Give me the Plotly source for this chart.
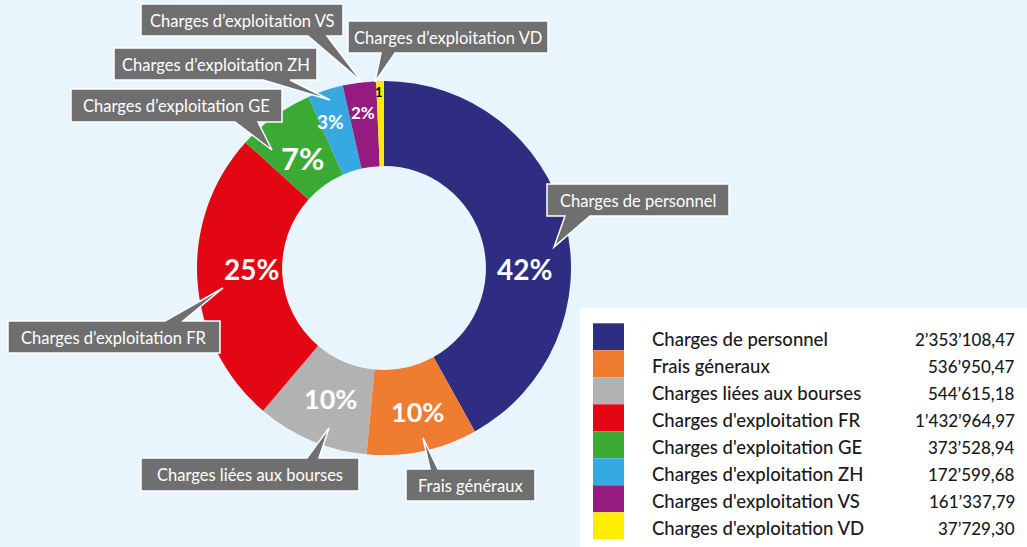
import plotly.graph_objects as go

# ---------------- data ----------------
categories = [
    "Charges de personnel",
    "Frais géneraux",
    "Charges liées aux bourses",
    "Charges d'exploitation FR",
    "Charges d'exploitation GE",
    "Charges d'exploitation ZH",
    "Charges d'exploitation VS",
    "Charges d'exploitation VD",
]
values = [2353108.47, 536950.47, 544615.18, 1432964.97, 373528.94, 172599.68, 161337.79, 37729.30]
value_labels = ["2’353’108,47", "536’950,47", "544’615,18", "1’432’964,97",
                "373’528,94", "172’599,68", "161’337,79", "37’729,30"]
slice_labels = ["42%", "10%", "10%", "25%", "7%", "3%", "2%", "1"]
callout_labels = ["Charges de personnel", "Frais généraux", "Charges liées aux bourses",
                  "Charges d’exploitation FR", "Charges d’exploitation GE",
                  "Charges d’exploitation ZH", "Charges d’exploitation VS",
                  "Charges d’exploitation VD"]
colors = ["#2E2D82", "#EE7D31", "#B2B2B3", "#E30613", "#3AAA35", "#36A9E1", "#951B81", "#FFED00"]

# ---------------- layout helpers ----------------
W, H = 1027, 547
BG = "#E9F5FD"
FONT = "Lato"


def X(px):
    return px / W


def Y(py):
    return 1 - py / H


cx, cy, r = 384, 268, 187

fig = go.Figure()
fig.add_trace(go.Pie(
    labels=categories,
    values=values,
    textinfo="none",
    marker=dict(colors=colors, line=dict(width=0)),
    hole=0.545,
    sort=False,
    direction="clockwise",
    rotation=0,
    showlegend=False,
    domain=dict(x=[X(cx - r), X(cx + r)], y=[Y(cy + r), Y(cy - r)]),
    hoverinfo="label+value",
))

shapes = []
annotations = []

# slice percentage labels: (pixel x, pixel y, font size, colour)
label_style = [
    (524, 269, 28, "white"),
    (417, 411, 27, "white"),
    (330, 398, 27, "white"),
    (251, 269, 28, "white"),
    (302, 158, 31, "white"),
    (330, 122, 19, "white"),
    (363, 112, 17, "white"),
    (379, 92, 13, "black"),
]
for i, (lx, ly, fs, fc) in enumerate(label_style):
    annotations.append(dict(x=X(lx), y=Y(ly), xref="paper", yref="paper",
                            text=slice_labels[i], showarrow=False,
                            xanchor="center", yanchor="middle",
                            font=dict(family=FONT, size=fs, color=fc, weight="bold")))

# callout bubbles: box (x0,y0,x1,y1), tail side, tail base (bx0,bx1), tip (tx,ty)
callouts = [
    (0, (547, 184, 729, 216), "bottom", (565, 590), (554, 247)),
    (1, (406, 469, 535, 501), "top", (430, 438), (423, 438)),
    (2, (141, 458, 359, 491), "top", (307, 319), (329, 428)),
    (3, (8, 321, 220, 353), "top", (165, 183), (223, 288)),
    (4, (71, 89, 282, 122), "bottom", (235, 258), (272, 150)),
    (5, (114, 48, 317, 80), "bottom", (263, 290), (330, 100)),
    (6, (141, 4, 343, 36), "bottom", (308, 327), (362, 82)),
    (7, (348, 21, 548, 53), "bottom", (381, 395), (375, 82)),
]
for idx, (x0, y0, x1, y1), side, (b0, b1), (tx, ty) in callouts:
    if side == "bottom":
        pts = [(x0, y0), (x1, y0), (x1, y1), (b1, y1), (tx, ty), (b0, y1), (x0, y1)]
    else:
        pts = [(x0, y0), (b0, y0), (tx, ty), (b1, y0), (x1, y0), (x1, y1), (x0, y1)]
    path = "M " + " L ".join(f"{X(a):.5f},{Y(b):.5f}" for a, b in pts) + " Z"
    shapes.append(dict(type="path", xref="paper", yref="paper", path=path,
                       fillcolor="#6F6F6F", line=dict(color="white", width=1.5),
                       layer="above"))
    annotations.append(dict(x=X((x0 + x1) / 2), y=Y((y0 + y1) / 2 + 0.5), xref="paper", yref="paper",
                            text=callout_labels[idx], showarrow=False,
                            xanchor="center", yanchor="middle",
                            font=dict(family=FONT, size=16.5, color="white")))

# legend panel
shapes.append(dict(type="rect", xref="paper", yref="paper",
                   x0=X(580), x1=X(W), y0=Y(308), y1=Y(H),
                   fillcolor="white", line=dict(width=0), layer="below"))
row_top, row_h = 323.3, 27.0
for i, name in enumerate(categories):
    t = row_top + i * row_h
    shapes.append(dict(type="rect", xref="paper", yref="paper",
                       x0=X(593), x1=X(624), y0=Y(t + row_h), y1=Y(t),
                       fillcolor=colors[i], line=dict(width=0), layer="above"))
    yc = t + row_h / 2 + 2.5
    annotations.append(dict(x=X(650), y=Y(yc), xref="paper", yref="paper",
                            text=name, showarrow=False, xanchor="left", yanchor="middle",
                            font=dict(family=FONT, size=18.5, color="#1A1A1A", weight=500)))
    annotations.append(dict(x=X(1017), y=Y(yc), xref="paper", yref="paper",
                            text=value_labels[i], showarrow=False, xanchor="right", yanchor="middle",
                            font=dict(family=FONT, size=17, color="#1A1A1A", weight=500)))

fig.update_layout(
    width=W, height=H,
    margin=dict(l=0, r=0, t=0, b=0),
    paper_bgcolor=BG, plot_bgcolor=BG,
    shapes=shapes, annotations=annotations,
    showlegend=False,
)

fig.write_html("out.html")
